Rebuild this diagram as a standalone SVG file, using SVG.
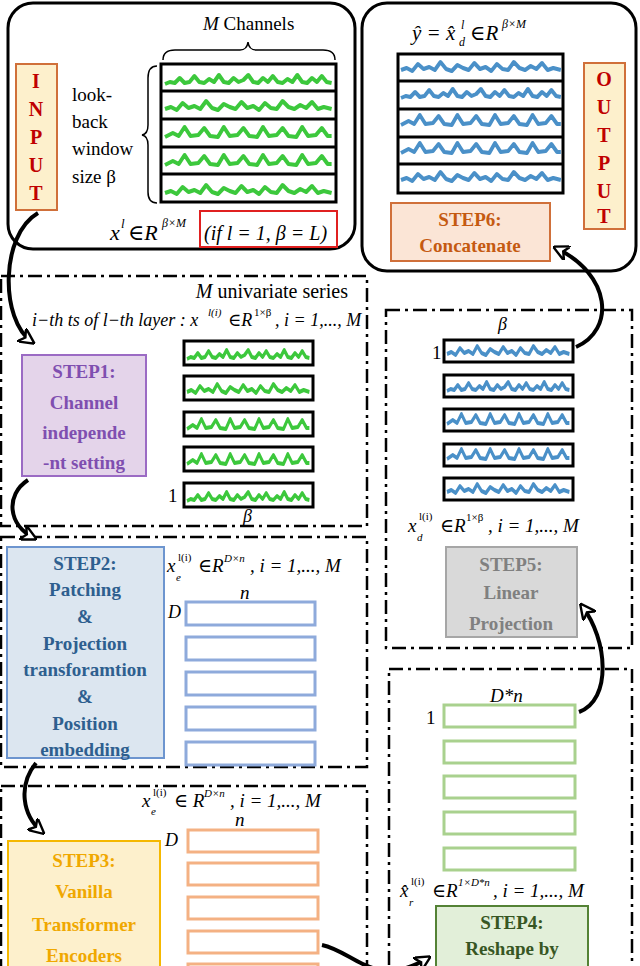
<svg xmlns="http://www.w3.org/2000/svg" xmlns:xlink="http://www.w3.org/1999/xlink" width="640" height="966" viewBox="0 0 640 966" font-family="'Liberation Serif','DejaVu Serif',serif">
<style>
text{font-family:"Liberation Serif","DejaVu Serif",serif;fill:#000}
.it{font-style:italic}
.b{font-weight:bold}
.s{font-size:11px}
.dd{fill:none;stroke:#000;stroke-width:2.5;stroke-dasharray:14 5 3 5}
.wg{fill:none;stroke:#3cc83c;stroke-width:4;vector-effect:non-scaling-stroke;stroke-linejoin:round}
.wb{fill:none;stroke:#4a90c8;stroke-width:4;vector-effect:non-scaling-stroke;stroke-linejoin:round}
.sb{fill:#fff;stroke:#000;stroke-width:3}
.conn{fill:none;stroke:#000;stroke-width:4}
</style>
<defs>
<path id="wA" d="M0,14 L5,12 10,13 15,8 20,13 25,12 30,6 35,12 40,13 45,9 50,12 55,5 60,12 65,13 70,8 75,12 80,10 85,5 90,12 95,13 100,8 105,12 110,6 115,12 120,13 125,9 130,12 135,5 140,12 145,13 150,8 155,12 160,6 165,12 170,13"/>
<path id="wB" d="M0,12 L6,10 12,13 18,6 24,11 30,9 36,12 42,4 48,11 54,13 60,7 66,10 72,12 78,5 84,11 90,9 96,13 102,6 108,11 114,12 120,4 126,10 132,12 138,8 144,11 150,5 156,12 162,10 170,12"/>
<path id="wC" d="M0,13 L8,9 14,12 20,3 26,12 34,11 40,4 46,12 54,13 60,3 66,12 74,11 80,4 86,12 94,13 100,3 106,12 114,11 120,4 126,12 134,13 140,3 146,12 154,11 160,4 166,12 170,12"/>
<marker id="ah" viewBox="0 0 10 10" refX="8" refY="5" markerWidth="4" markerHeight="4" orient="auto" markerUnits="strokeWidth">
<path d="M0,0 L10,5 L0,10 L3,5 Z" fill="#fff" stroke="#000" stroke-width="1.5"/>
</marker>
</defs>

<!-- INPUT panel -->
<g id="input">
<rect x="8" y="3" width="347" height="246" rx="25" fill="#fff" stroke="#000" stroke-width="3"/>
<rect x="16" y="64" width="41" height="146" fill="#fdf0cc" stroke="#d0703a" stroke-width="2"/>
<g class="b" font-size="20" text-anchor="middle">
<text x="36" y="88" style="fill:#c00000">I</text><text x="36" y="116" style="fill:#c00000">N</text><text x="36" y="144" style="fill:#c00000">P</text><text x="36" y="172" style="fill:#c00000">U</text><text x="36" y="200" style="fill:#c00000">T</text>
</g>
<text x="203" y="30" font-size="19"><tspan class="it">M</tspan> Channels</text>
<path d="M163,60 Q163,50 175,50 L240,50 Q247,50 248,42 Q249,50 256,50 L323,50 Q335,50 335,60" fill="none" stroke="#000" stroke-width="1.5"/>
<path d="M157,66 Q148,66 148,78 L148,125 Q148,134 142,135 Q148,136 148,145 L148,192 Q148,203 157,203" fill="none" stroke="#000" stroke-width="1.5"/>
<g font-size="19"><text x="72" y="101">look-</text><text x="72" y="128">back</text><text x="72" y="155">window</text><text x="72" y="183">size β</text></g>
<rect x="161" y="64" width="175" height="138" fill="#fff" stroke="#000" stroke-width="3"/>
<g stroke="#000" stroke-width="3"><line x1="161" y1="91" x2="336" y2="91"/><line x1="161" y1="119" x2="336" y2="119"/><line x1="161" y1="147" x2="336" y2="147"/><line x1="161" y1="174" x2="336" y2="174"/></g>
<use xlink:href="#wA" class="wg" transform="translate(165,70) scale(0.98,1)"/>
<use xlink:href="#wB" class="wg" transform="translate(165,97) scale(0.98,1)"/>
<use xlink:href="#wC" class="wg" transform="translate(165,124) scale(0.98,1)"/>
<use xlink:href="#wC" class="wg" transform="translate(165,152) scale(0.98,1)"/>
<use xlink:href="#wB" class="wg" transform="translate(165,181) scale(0.98,1)"/>
<text x="110" y="240" font-size="22" class="it">x</text><text x="121" y="228" class="it" font-size="13">l</text>
<text x="128" y="240" font-size="22" class="it">∈R</text><text x="162" y="227" class="it" font-size="12">β×M</text>
<rect x="200" y="211" width="137" height="36" fill="none" stroke="#e02020" stroke-width="2"/>
<text x="204" y="240" font-size="20" class="it">(if l = 1, β = L)</text>
</g>

<!-- OUTPUT panel -->
<g id="output">
<rect x="362" y="3" width="274" height="268" rx="25" fill="#fff" stroke="#000" stroke-width="3"/>
<text x="412" y="40" font-size="21" class="it">ŷ = x̂</text><text x="461" y="29" class="it" font-size="12">l</text><text x="459" y="46" class="it" font-size="12">d</text>
<text x="470" y="40" font-size="21" class="it">∈R</text><text x="502" y="28" class="it" font-size="12">β×M</text>
<rect x="398" y="54" width="165" height="139" fill="#fff" stroke="#000" stroke-width="3"/>
<g stroke="#000" stroke-width="3"><line x1="398" y1="81" x2="563" y2="81"/><line x1="398" y1="109" x2="563" y2="109"/><line x1="398" y1="137" x2="563" y2="137"/><line x1="398" y1="164" x2="563" y2="164"/></g>
<use xlink:href="#wB" class="wb" transform="translate(401,58) scale(0.94,1)"/>
<use xlink:href="#wA" class="wb" transform="translate(401,84) scale(0.94,1)"/>
<use xlink:href="#wC" class="wb" transform="translate(401,112) scale(0.94,1)"/>
<use xlink:href="#wC" class="wb" transform="translate(401,140) scale(0.94,1)"/>
<use xlink:href="#wB" class="wb" transform="translate(401,168) scale(0.94,1)"/>
<rect x="584" y="63" width="41" height="166" fill="#fdf0cc" stroke="#d0703a" stroke-width="2"/>
<g class="b" font-size="20" text-anchor="middle">
<text x="604" y="86" style="fill:#c00000">O</text><text x="604" y="114" style="fill:#c00000">U</text><text x="604" y="142" style="fill:#c00000">T</text><text x="604" y="170" style="fill:#c00000">P</text><text x="604" y="198" style="fill:#c00000">U</text><text x="604" y="223" style="fill:#c00000">T</text>
</g>
<rect x="391" y="203" width="159" height="58" fill="#fbe5d6" stroke="#d0703a" stroke-width="2"/>
<g class="b" font-size="19" text-anchor="middle"><text x="470" y="226" style="fill:#c55a11">STEP6:</text><text x="470" y="252" style="fill:#c55a11">Concatenate</text></g>
</g>

<!-- STEP1 -->
<g id="step1">
<rect class="dd" x="1" y="276" width="366" height="250"/>
<text x="348" y="298" font-size="20" text-anchor="end"><tspan class="it">M</tspan> univariate series</text>
<text x="32" y="326" font-size="18" class="it">i−th ts of l−th layer : x</text>
<text x="208" y="316" class="s it">l(i)</text>
<text x="228" y="326" font-size="18" class="it">∈R</text><text x="254" y="316" class="s">1×β</text>
<text x="275" y="326" font-size="18" class="it">, i = 1,..., M</text>
<rect x="22" y="355" width="124" height="121" fill="#e4d4ea" stroke="#9b6bc4" stroke-width="2"/>
<g class="b" font-size="19" text-anchor="middle"><text x="84" y="378" style="fill:#7f4fb0">STEP1:</text><text x="84" y="409" style="fill:#7f4fb0">Channel</text><text x="84" y="439" style="fill:#7f4fb0">independe</text><text x="84" y="469" style="fill:#7f4fb0">-nt setting</text></g>
<rect class="sb" x="184" y="341" width="129" height="24"/><use xlink:href="#wA" class="wg" transform="translate(187,345) scale(0.72,1)"/>
<rect class="sb" x="184" y="376" width="129" height="24"/><use xlink:href="#wB" class="wg" transform="translate(187,380) scale(0.72,1)"/>
<rect class="sb" x="184" y="412" width="129" height="24"/><use xlink:href="#wC" class="wg" transform="translate(187,416) scale(0.72,1)"/>
<rect class="sb" x="184" y="447" width="129" height="24"/><use xlink:href="#wC" class="wg" transform="translate(187,451) scale(0.72,1)"/>
<rect class="sb" x="184" y="483" width="129" height="24"/><use xlink:href="#wA" class="wg" transform="translate(187,487) scale(0.72,1)"/>
<text x="168" y="502" font-size="19">1</text>
<text x="243" y="522" font-size="18" class="it">β</text>
</g>

<!-- STEP2 -->
<g id="step2">
<rect class="dd" x="1" y="537" width="366" height="230"/>
<rect x="7" y="547" width="157" height="211" fill="#dce6f0" stroke="#6d95cf" stroke-width="2"/>
<g class="b" font-size="19" text-anchor="middle"><text x="85" y="570" style="fill:#2e5f8f">STEP2:</text><text x="85" y="596" style="fill:#2e5f8f">Patching</text><text x="85" y="623" style="fill:#2e5f8f">&amp;</text><text x="85" y="650" style="fill:#2e5f8f">Projection</text><text x="85" y="676" style="fill:#2e5f8f">transforamtion</text><text x="85" y="703" style="fill:#2e5f8f">&amp;</text><text x="85" y="730" style="fill:#2e5f8f">Position</text><text x="85" y="756" style="fill:#2e5f8f">embedding</text></g>
<text x="167" y="572" font-size="19" class="it">x</text><text x="178" y="561" class="s">l(i)</text><text x="176" y="581" class="s it">e</text>
<text x="198" y="572" font-size="19" class="it">∈R</text><text x="224" y="562" class="s it">D×n</text>
<text x="250" y="572" font-size="19" class="it">, i = 1,..., M</text>
<text x="240" y="599" font-size="19" class="it">n</text>
<text x="168" y="618" font-size="18" class="it">D</text>
<g fill="#fff" stroke="#8eaadb" stroke-width="3">
<rect x="186" y="602" width="129" height="23"/><rect x="186" y="637" width="129" height="23"/><rect x="186" y="672" width="129" height="23"/><rect x="186" y="707" width="129" height="23"/><rect x="186" y="742" width="129" height="23"/>
</g>
</g>

<!-- STEP3 -->
<g id="step3">
<rect class="dd" x="1" y="786" width="366" height="200"/>
<text x="142" y="807" font-size="19" class="it">x</text><text x="153" y="796" class="s">l(i)</text><text x="151" y="815" class="s it">e</text>
<text x="174" y="807" font-size="19" class="it">∈ R</text><text x="204" y="797" class="s it">D×n</text>
<text x="230" y="807" font-size="19" class="it">, i = 1,..., M</text>
<text x="235" y="826" font-size="19" class="it">n</text>
<text x="165" y="846" font-size="18" class="it">D</text>
<g fill="#fff" stroke="#f4b183" stroke-width="3">
<rect x="188" y="830" width="130" height="22"/><rect x="188" y="863" width="130" height="22"/><rect x="188" y="897" width="130" height="22"/><rect x="188" y="931" width="130" height="22"/><rect x="188" y="964" width="130" height="22"/>
</g>
<rect x="8" y="841" width="152" height="140" fill="#fdf0cc" stroke="#f5b800" stroke-width="2"/>
<g class="b" font-size="19" text-anchor="middle"><text x="84" y="867" style="fill:#f0a800">STEP3:</text><text x="84" y="898" style="fill:#f0a800">Vanilla</text><text x="84" y="931" style="fill:#f0a800">Transformer</text><text x="84" y="962" style="fill:#f0a800">Encoders</text></g>
</g>

<!-- STEP5 -->
<g id="step5">
<rect class="dd" x="386" y="310" width="246" height="338"/>
<text x="498" y="330" font-size="18" class="it">β</text>
<text x="432" y="359" font-size="19">1</text>
<rect class="sb" x="444" y="340" width="129" height="22"/><use xlink:href="#wB" class="wb" transform="translate(447,342) scale(0.72,1)"/>
<rect class="sb" x="444" y="375" width="129" height="22"/><use xlink:href="#wA" class="wb" transform="translate(447,377) scale(0.72,1)"/>
<rect class="sb" x="444" y="409" width="129" height="22"/><use xlink:href="#wC" class="wb" transform="translate(447,411) scale(0.72,1)"/>
<rect class="sb" x="444" y="444" width="129" height="22"/><use xlink:href="#wC" class="wb" transform="translate(447,446) scale(0.72,1)"/>
<rect class="sb" x="444" y="478" width="129" height="22"/><use xlink:href="#wB" class="wb" transform="translate(447,480) scale(0.72,1)"/>
<text x="408" y="532" font-size="19" class="it">x</text><text x="419" y="520" class="s">l(i)</text><text x="417" y="541" class="s it">d</text>
<text x="440" y="532" font-size="19" class="it">∈R</text><text x="466" y="521" class="s">1×β</text>
<text x="488" y="532" font-size="19" class="it">, i = 1,..., M</text>
<rect x="446" y="547" width="131" height="90" fill="#d9d9d9" stroke="#a6a6a6" stroke-width="2"/>
<g class="b" font-size="19" text-anchor="middle"><text x="511" y="571" style="fill:#808080">STEP5:</text><text x="511" y="599" style="fill:#808080">Linear</text><text x="511" y="630" style="fill:#808080">Projection</text></g>
</g>

<!-- STEP4 -->
<g id="step4">
<rect class="dd" x="389" y="669" width="243" height="310"/>
<text x="490" y="702" font-size="19" class="it">D*n</text>
<text x="426" y="724" font-size="19">1</text>
<g fill="#fff" stroke="#a9d18e" stroke-width="3">
<rect x="444" y="705" width="131" height="22"/><rect x="444" y="741" width="131" height="22"/><rect x="444" y="776" width="131" height="22"/><rect x="444" y="812" width="131" height="22"/><rect x="444" y="848" width="131" height="22"/>
</g>
<text x="400" y="897" font-size="19" class="it">x̂</text><text x="411" y="885" class="s">l(i)</text><text x="409" y="906" class="s it">r</text>
<text x="432" y="897" font-size="19" class="it">∈R</text><text x="458" y="886" class="s it">1×D*n</text>
<text x="493" y="897" font-size="19" class="it">, i = 1,..., M</text>
<rect x="436" y="906" width="152" height="70" fill="#e2efd9" stroke="#548235" stroke-width="2"/>
<g class="b" font-size="19" text-anchor="middle"><text x="512" y="929" style="fill:#375623">STEP4:</text><text x="512" y="955" style="fill:#375623">Reshape by</text></g>
</g>

<!-- connectors -->
<g id="connectors">
<path class="conn" marker-end="url(#ah)" d="M38,213 C0,235 0,320 32,342"/>
<path class="conn" marker-end="url(#ah)" d="M28,480 C5,495 8,525 34,538"/>
<path class="conn" marker-end="url(#ah)" d="M36,763 C18,785 22,815 42,832"/>
<path class="conn" marker-end="url(#ah)" d="M322,945 C355,952 375,990 428,958"/>
<path class="conn" marker-end="url(#ah)" d="M579,712 C612,700 608,640 582,606"/>
<path class="conn" marker-end="url(#ah)" d="M576,347 C615,330 612,275 556,248"/>
</g>
</svg>
